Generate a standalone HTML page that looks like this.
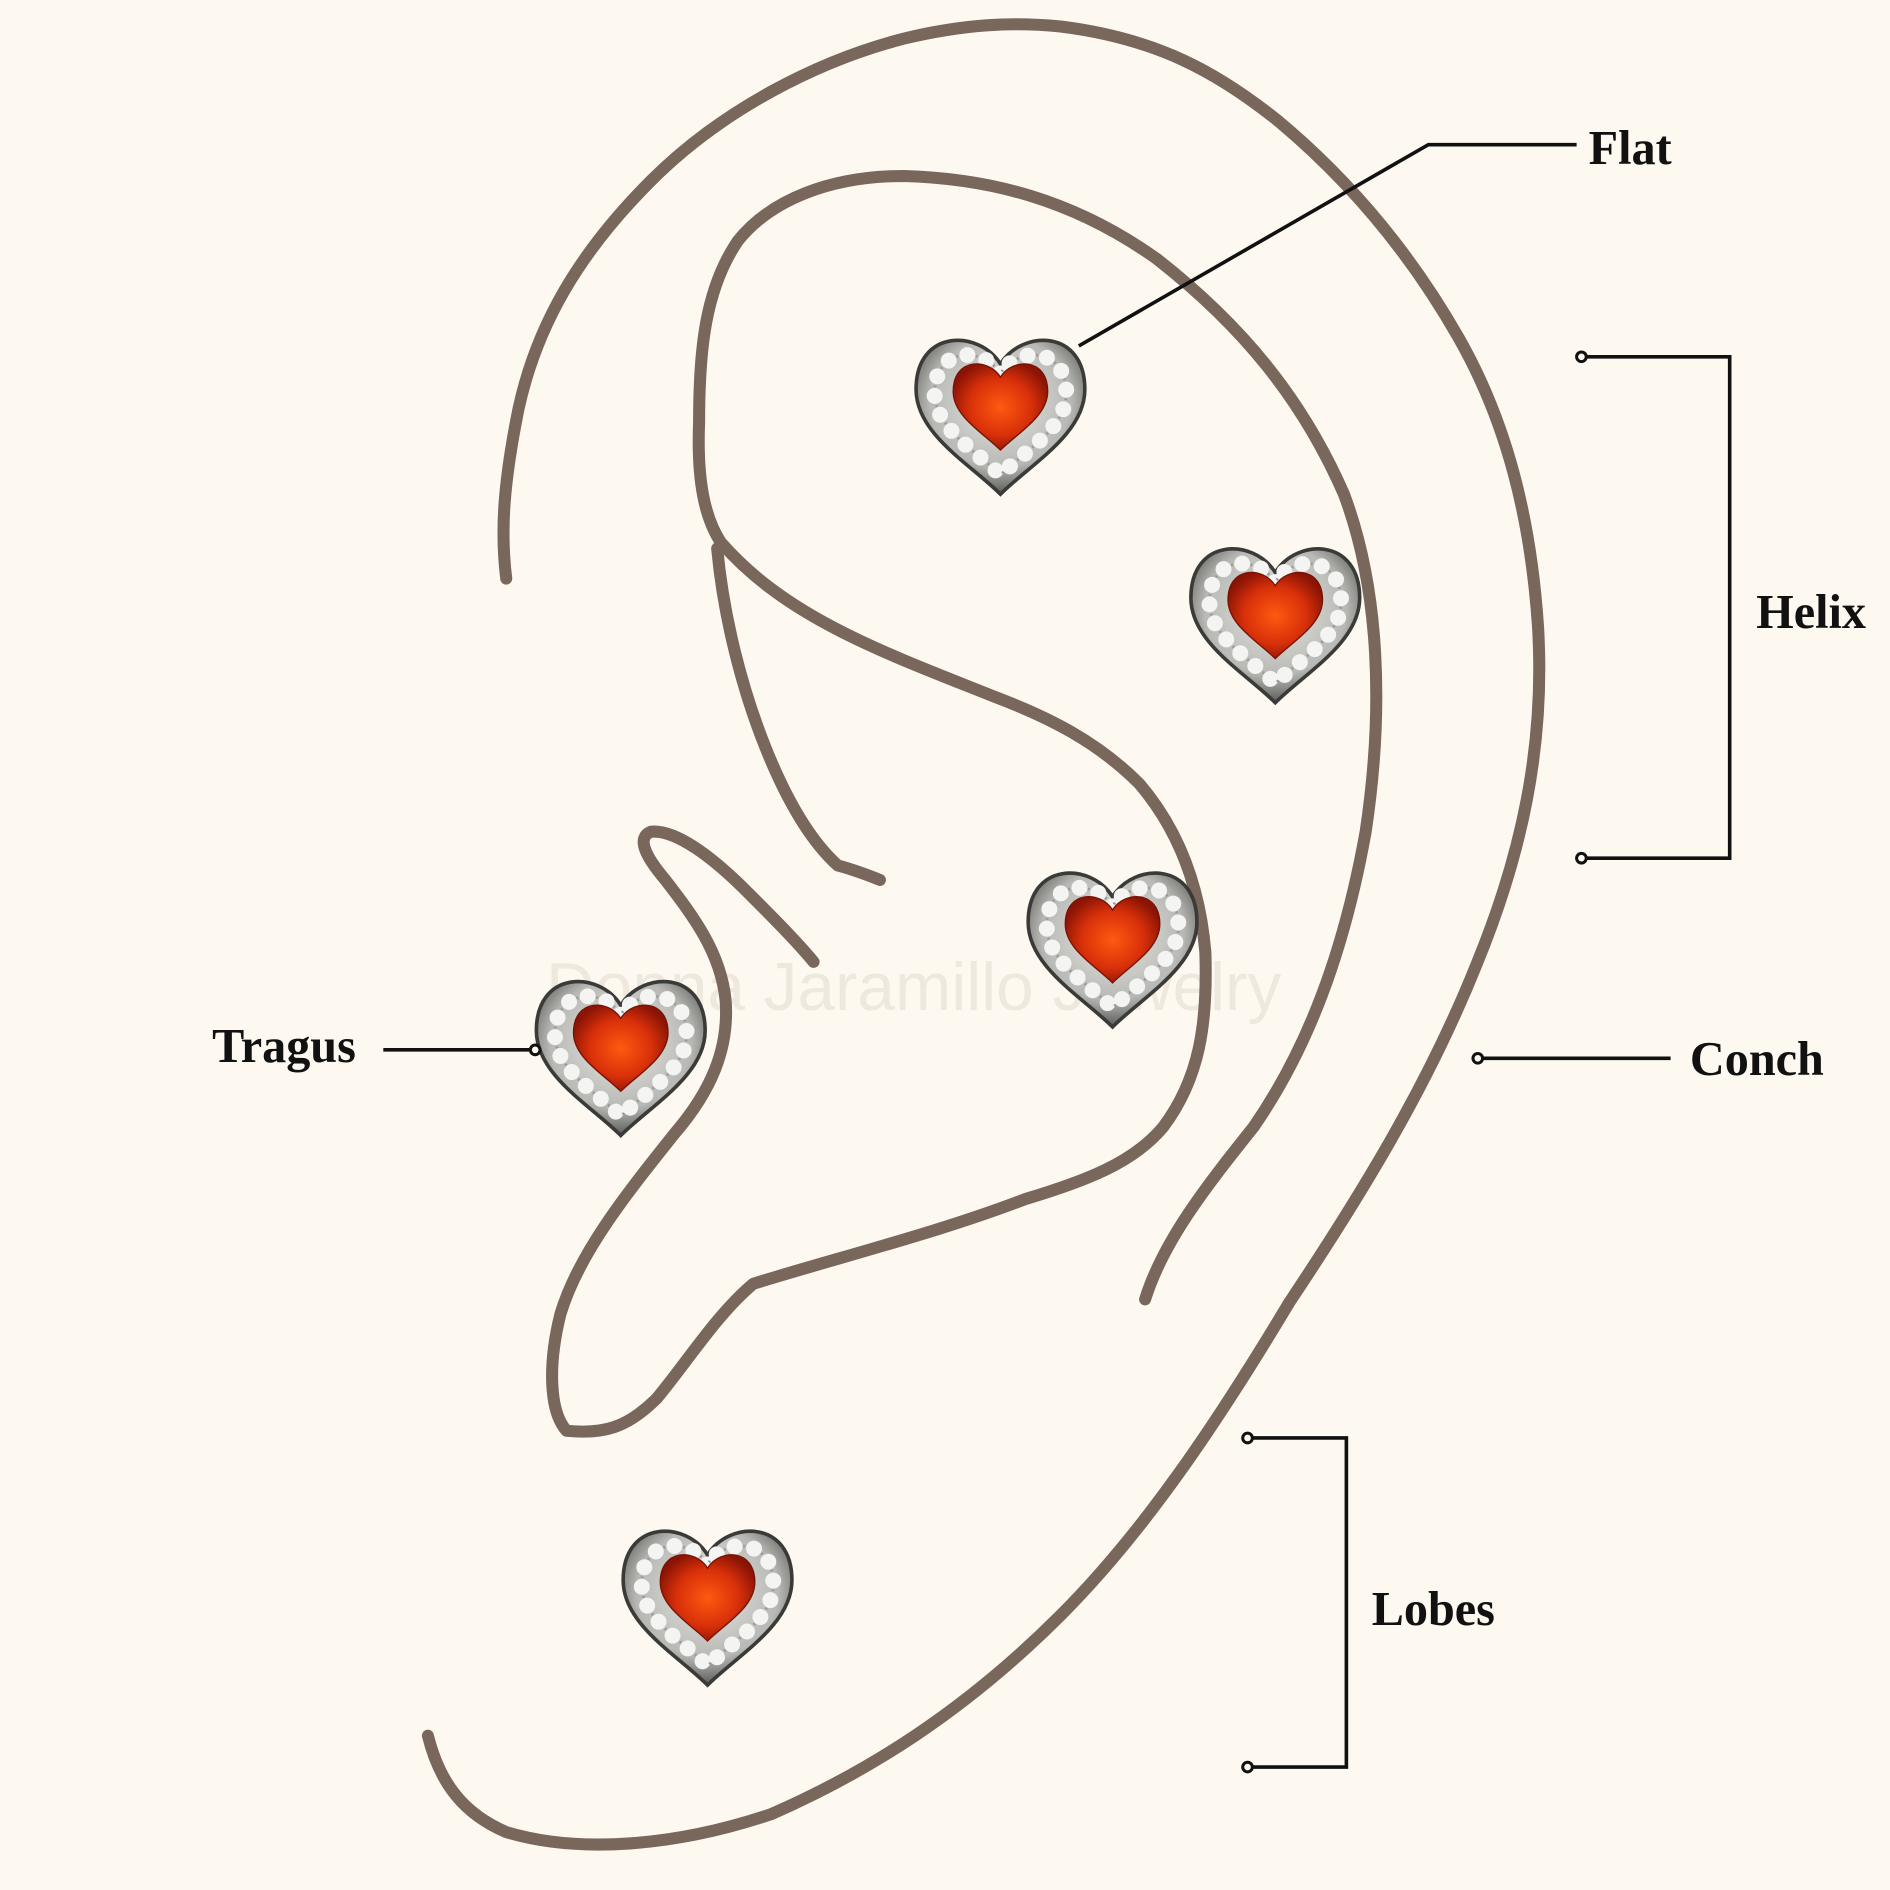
<!DOCTYPE html>
<html><head><meta charset="utf-8"><style>
html,body{margin:0;padding:0;background:#fdf9f1;}
svg{display:block;}
</style></head><body>
<svg width="1890" height="1890" viewBox="0 0 1568 1568" xmlns="http://www.w3.org/2000/svg">
<defs>
<radialGradient id="silver" cx="50%" cy="40%" r="60%">
<stop offset="0" stop-color="#e8e8e6"/><stop offset="0.7" stop-color="#b8b8b4"/><stop offset="1" stop-color="#5a5a58"/>
</radialGradient>
<radialGradient id="ruby" cx="50%" cy="50%" r="55%">
<stop offset="0" stop-color="#ff5a10"/><stop offset="0.6" stop-color="#d8300a"/><stop offset="1" stop-color="#8a1405"/>
</radialGradient>
<path id="hp" d="M0,-43 C-18,-72 -70,-72 -70,-22 C-70,15 -25,40 0,65 C25,40 70,15 70,-22 C70,-72 18,-72 0,-43Z"/>
<g id="heart">
<use href="#hp" fill="url(#silver)" stroke="#3a3a38" stroke-width="3"/>
<use href="#hp" transform="scale(0.78) translate(0,-2)" fill="none" stroke="#f4f4f2" stroke-width="17" stroke-dasharray="0 21" stroke-linecap="round"/>
<use href="#hp" transform="scale(0.78) translate(0,-2)" fill="none" stroke="#9a9a98" stroke-width="3" stroke-dasharray="2 19" stroke-dashoffset="-10"/>
<use href="#hp" transform="translate(0,-8) scale(0.56)" fill="url(#ruby)" stroke="#7a1204" stroke-width="2"/>
</g>
</defs>
<rect width="1568" height="1568" fill="#fdf9f1"/>
<text x="758" y="838" font-family="Liberation Sans, sans-serif" font-size="56" fill="#e8e2d8" text-anchor="middle" opacity="0.7">Donna Jaramillo Jewelry</text>
<g fill="none" stroke="#7a675c" stroke-width="10" stroke-linecap="round" stroke-linejoin="round">
<path d="M420,480 C415,440 418,400 430,340 C445,270 480,210 540,150 C600,90 680,50 750,32 C800,20 840,18 880,22 C960,32 1010,60 1060,100 C1120,150 1170,210 1210,280 C1250,350 1270,430 1276,520 C1282,620 1262,710 1225,800 C1185,900 1130,990 1070,1080 C1010,1180 950,1270 880,1340 C800,1420 720,1470 640,1505 C560,1532 480,1538 420,1520 C385,1505 365,1480 355,1440"/>
<path d="M950,1078 C965,1030 1000,985 1040,935 C1085,870 1115,790 1133,690 C1148,590 1145,490 1115,410 C1080,330 1030,270 960,215 C890,165 820,148 750,146 C690,146 640,165 612,200 C585,240 580,290 580,350 C578,400 585,430 598,450 C620,475 650,500 700,525 C740,545 780,560 825,578 C870,595 910,615 945,650 C975,685 995,730 1000,790 C1002,850 995,895 965,935 C940,965 900,980 850,995 C780,1022 700,1042 625,1065 C595,1090 570,1130 545,1160 C520,1185 500,1190 470,1187 C455,1170 455,1130 465,1090 C480,1040 520,990 560,940 C590,905 605,870 602,830 C598,790 575,760 552,730 C535,710 528,695 540,690 C560,688 590,710 620,740 C640,760 660,780 675,798"/>
<path d="M595,455 C600,510 615,570 635,620 C655,670 675,700 695,718 C710,722 720,726 730,730"/>
</g>
<use href="#heart" transform="translate(830,345)"/>
<use href="#heart" transform="translate(1058,518)"/>
<use href="#heart" transform="translate(923,787)"/>
<use href="#heart" transform="translate(515,877)"/>
<use href="#heart" transform="translate(587,1333)"/>
<g stroke="#111" stroke-width="3" fill="none">
<polyline points="895,287 1185,120 1308,120"/>
<polyline points="1312,296 1435,296 1435,712 1312,712"/>
<line x1="1226" y1="878" x2="1386" y2="878"/>
<line x1="318" y1="871" x2="440" y2="871"/>
<polyline points="1035,1193 1117,1193 1117,1466 1035,1466"/>
</g>
<g stroke="#111" stroke-width="2.5" fill="#fdf9f1">
<circle cx="1312" cy="296" r="4"/><circle cx="1312" cy="712" r="4"/>
<circle cx="1226" cy="878" r="4"/><circle cx="444" cy="871" r="4"/>
<circle cx="1035" cy="1193" r="4"/><circle cx="1035" cy="1466" r="4"/>
</g>
<g font-family="Liberation Serif, serif" font-weight="bold" font-size="40" fill="#111">
<text x="1318" y="136">Flat</text>
<text x="1457" y="521">Helix</text>
<text x="1402" y="892">Conch</text>
<text x="176" y="881">Tragus</text>
<text x="1138" y="1348">Lobes</text>
</g>
</svg>
</body></html>
